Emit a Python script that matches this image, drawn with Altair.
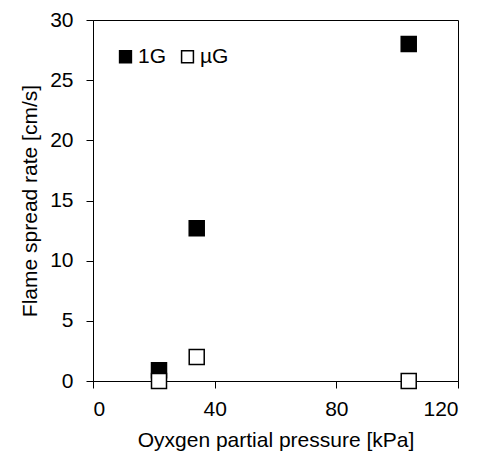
import altair as alt
import pandas as pd

series = ["1G", "1G", "1G", "µG", "µG", "µG"]
pressure = [21.7, 34.1, 103.8, 21.7, 34.1, 103.8]
rate = [0.9, 12.7, 28.0, 0.0, 2.0, 0.0]
order = [0, 0, 0, 1, 1, 1]

df = pd.DataFrame({"series": series, "pressure": pressure, "rate": rate, "order": order})

FONT = "Liberation Sans"

chart = alt.Chart(df).mark_point(
    shape="square", size=225, filled=True, stroke="black", strokeWidth=1.5, opacity=1, clip=False
).encode(
    x=alt.X("pressure:Q", scale=alt.Scale(domain=[0, 120], nice=False),
            axis=alt.Axis(values=[0, 40, 80, 120], title="Oyxgen partial pressure [kPa]",
                          grid=False, tickSize=7, labelPadding=10, titlePadding=10,
                          titleColor="black", labelColor="black")),
    y=alt.Y("rate:Q", scale=alt.Scale(domain=[0, 30], nice=False),
            axis=alt.Axis(values=[0, 5, 10, 15, 20, 25, 30], title="Flame spread rate [cm/s]",
                          grid=False, tickSize=7, labelPadding=13, titlePadding=9,
                          titleColor="black", labelColor="black")),
    fill=alt.Fill("series:N", scale=alt.Scale(domain=["1G", "µG"], range=["black", "white"]),
                  legend=alt.Legend(title=None, orient="none", legendX=22, legendY=26,
                                    direction="horizontal", symbolType="square", symbolSize=140,
                                    symbolStrokeColor="black", symbolStrokeWidth=1.5,
                                    labelFontSize=21, labelFont=FONT, labelColor="black",
                                    labelOffset=2, columnPadding=10, padding=0)),
    order=alt.Order("order:Q"),
).properties(
    width=365, height=361,
    background="white",
    autosize=alt.AutoSizeParams(type="none"),
    padding={"left": 93, "top": 20, "right": 20, "bottom": 85},
).configure_view(
    stroke="black", strokeWidth=1
).configure_axis(
    domainColor="black", tickColor="black", domainWidth=1, tickWidth=1,
    labelFont=FONT, titleFont=FONT, labelFontSize=21, titleFontSize=21,
    labelColor="black", titleColor="black", titleFontWeight="normal"
)

chart.save("out.html", embed_options={"renderer": "svg", "actions": False})
